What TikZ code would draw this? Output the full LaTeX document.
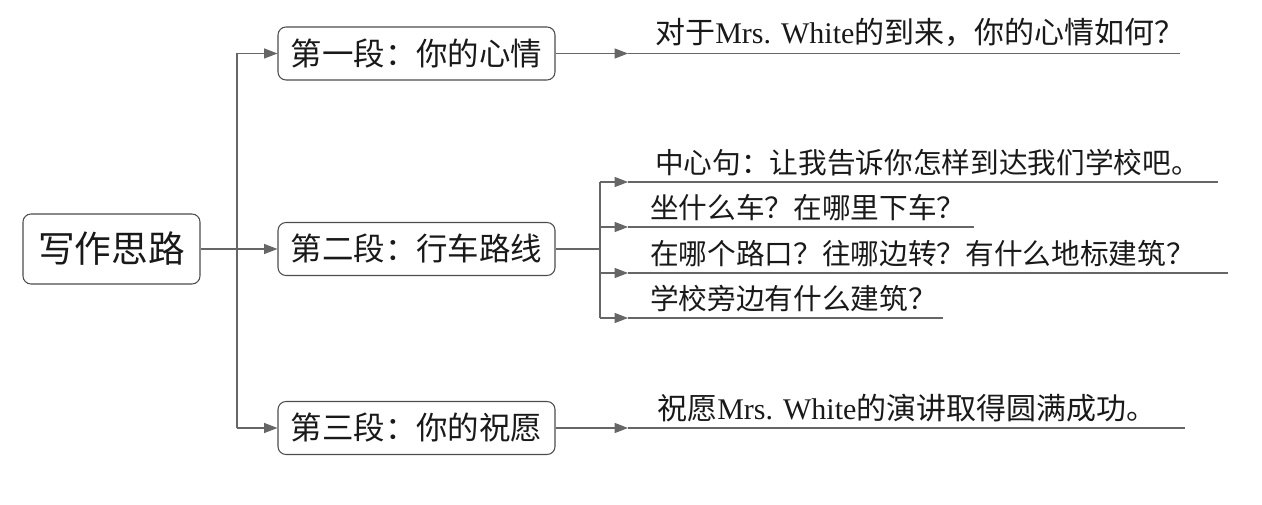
\documentclass[tikz,border=0pt]{standalone}
\usepackage{fontspec}
\newfontfamily\cjk{Noto Sans CJK SC}
\newfontfamily\lat{Liberation Serif}
\usetikzlibrary{arrows.meta}
\begin{document}
\begin{tikzpicture}[x=0.75pt,y=-0.75pt,
  box/.style={draw=black!70, line width=0.8pt, rounded corners=6pt, inner sep=0pt, text=black!90},
  ln/.style={draw=black!60, line width=0.8pt},
  arr/.style={ln, -{Triangle[length=10pt,width=7.5pt]}},
  bigtxt/.style={anchor=base west, inner sep=0pt, text=black!90, font=\cjk\fontsize{22.5pt}{26pt}\selectfont},
  midtxt/.style={anchor=base west, inner sep=0pt, text=black!90, font=\cjk\fontsize{21.5pt}{26pt}\selectfont}
]
\useasboundingbox (0,0) rectangle (1262,505);
% root and stage boxes
\node[box, minimum width=132.75pt, minimum height=52.5pt, font=\cjk\fontsize{27.5pt}{32pt}\selectfont] (root) at (111.5,249) {写作思路};
\node[box, minimum width=207.75pt, minimum height=39.75pt, font=\cjk\fontsize{23.6pt}{28pt}\selectfont] (b1) at (416.5,53.5) {第一段：你的心情};
\node[box, minimum width=207.75pt, minimum height=39.75pt, font=\cjk\fontsize{23.6pt}{28pt}\selectfont] (b2) at (416.5,249) {第二段：行车路线};
\node[box, minimum width=207.75pt, minimum height=39.75pt, font=\cjk\fontsize{23.6pt}{28pt}\selectfont] (b3) at (416.5,428) {第三段：你的祝愿};
% spine
\coordinate (s1) at (237,53.5);
\coordinate (s3) at (237,428);
\draw[ln] (s1) -- (s3);
\draw[arr] (s1) -- (b1.west);
\draw[arr] (root.east) -- (b2.west);
\draw[arr] (s3) -- (b3.west);
% branch 1
\coordinate (a1) at (628,53.5);
\coordinate (e1) at (1180,53.5);
\draw[arr] (b1.east) -- (a1);
\draw[ln] (a1) -- (e1);
\node[bigtxt] (t1) at (655,44) {对于{\lat Mrs. White}的到来，你的心情如何？};
% branch 3
\coordinate (a3) at (628,428);
\coordinate (e3) at (1185,428);
\draw[arr] (b3.east) -- (a3);
\draw[ln] (a3) -- (e3);
\node[bigtxt] (t3) at (657,419) {祝愿{\lat Mrs. White}的演讲取得圆满成功。};
% branch 2
\coordinate (v) at (600,249);
\coordinate (v1) at (600,182);
\coordinate (v4) at (600,318);
\coordinate (v2) at (600,227);
\coordinate (v3) at (600,273);
\draw[ln] (b2.east) -- (v);
\draw[ln] (v1) -- (v4);
\coordinate (a21) at (628,182);
\coordinate (a22) at (628,227);
\coordinate (a23) at (628,273);
\coordinate (a24) at (628,318);
\coordinate (e21) at (1218,182);
\coordinate (e22) at (974,227);
\coordinate (e23) at (1228,273);
\coordinate (e24) at (943,318);
\draw[arr] (v1) -- (a21); \draw[ln] (a21) -- (e21);
\draw[arr] (v2) -- (a22); \draw[ln] (a22) -- (e22);
\draw[arr] (v3) -- (a23); \draw[ln] (a23) -- (e23);
\draw[arr] (v4) -- (a24); \draw[ln] (a24) -- (e24);
\node[midtxt] (t21) at (655,174) {中心句：让我告诉你怎样到达我们学校吧。};
\node[midtxt] (t22) at (650,219) {坐什么车？在哪里下车？};
\node[midtxt] (t23) at (650,265) {在哪个路口？往哪边转？有什么地标建筑？};
\node[midtxt] (t24) at (650,310) {学校旁边有什么建筑？};
\end{tikzpicture}
\end{document}
